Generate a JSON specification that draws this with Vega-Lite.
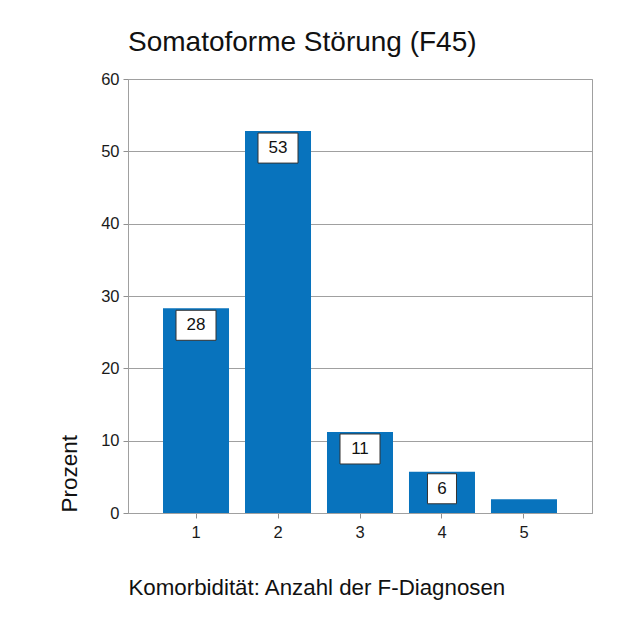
{
  "$schema": "https://vega.github.io/schema/vega-lite/v6.json",
  "width": 464,
  "height": 434,
  "autosize": "none",
  "padding": {"left": 128, "top": 79, "right": 36, "bottom": 110},
  "background": "white",
  "config": {
    "font": "Liberation Sans",
    "view": {"stroke": "#a0a0a0", "strokeWidth": 1}
  },
  "title": {
    "text": "Somatoforme Störung (F45)",
    "anchor": "start",
    "frame": "group",
    "fontSize": 28,
    "font": "Liberation Sans",
    "fontWeight": "normal",
    "color": "#111111",
    "baseline": "alphabetic",
    "offset": -8
  },
  "data": {
    "values": [
      {"n": "1", "value": 28.3, "label": "28"},
      {"n": "2", "value": 52.8, "label": "53"},
      {"n": "3", "value": 11.2, "label": "11"},
      {"n": "4", "value": 5.7, "label": "6"},
      {"n": "5", "value": 1.9, "label": ""}
    ]
  },
  "encoding": {
    "x": {
      "field": "n",
      "type": "ordinal",
      "scale": {"paddingInner": 0.195, "paddingOuter": 0.427},
      "title": "Komorbidität: Anzahl der F-Diagnosen",
      "axis": {
        "labelAngle": 0,
        "labelFontSize": 16.5,
        "labelColor": "#1a1a1a",
        "labelPadding": 6,
        "tickSize": 5,
        "tickColor": "#909090",
        "domainColor": "#a0a0a0",
        "grid": false,
        "titleFontSize": 22.3,
        "titleFontWeight": "normal",
        "titleColor": "#111111",
        "titleX": 0,
        "titleY": 81,
        "titleAlign": "left",
        "titleBaseline": "alphabetic"
      }
    },
    "y": {
      "field": "value",
      "type": "quantitative",
      "scale": {"domain": [0, 60], "nice": false},
      "title": "Prozent",
      "axis": {
        "values": [0, 10, 20, 30, 40, 50, 60],
        "grid": true,
        "gridColor": "#a0a0a0",
        "domainColor": "#a0a0a0",
        "tickColor": "#909090",
        "tickSize": 5,
        "labelFontSize": 16.5,
        "labelColor": "#1a1a1a",
        "labelPadding": 4,
        "titleFontSize": 22.5,
        "titleFontWeight": "normal",
        "titleColor": "#111111",
        "titleX": -52,
        "titleY": 433,
        "titleAlign": "left",
        "titleBaseline": "alphabetic"
      }
    }
  },
  "layer": [
    {
      "mark": {"type": "bar", "color": "#0873bd"}
    },
    {
      "transform": [{"filter": "datum.label != ''"}],
      "mark": {
        "type": "bar",
        "fill": "white",
        "stroke": "#333333",
        "strokeWidth": 1,
        "yOffset": 2,
        "y2Offset": 32
      },
      "encoding": {
        "y2": {"field": "value"},
        "size": {"condition": {"test": "length(datum.label) < 2", "value": 29}, "value": 40}
      }
    },
    {
      "transform": [{"filter": "datum.label != ''"}],
      "mark": {
        "type": "text",
        "baseline": "middle",
        "dy": 17,
        "fontSize": 17,
        "font": "Liberation Sans",
        "color": "#111111"
      },
      "encoding": {
        "text": {"field": "label"}
      }
    }
  ]
}
